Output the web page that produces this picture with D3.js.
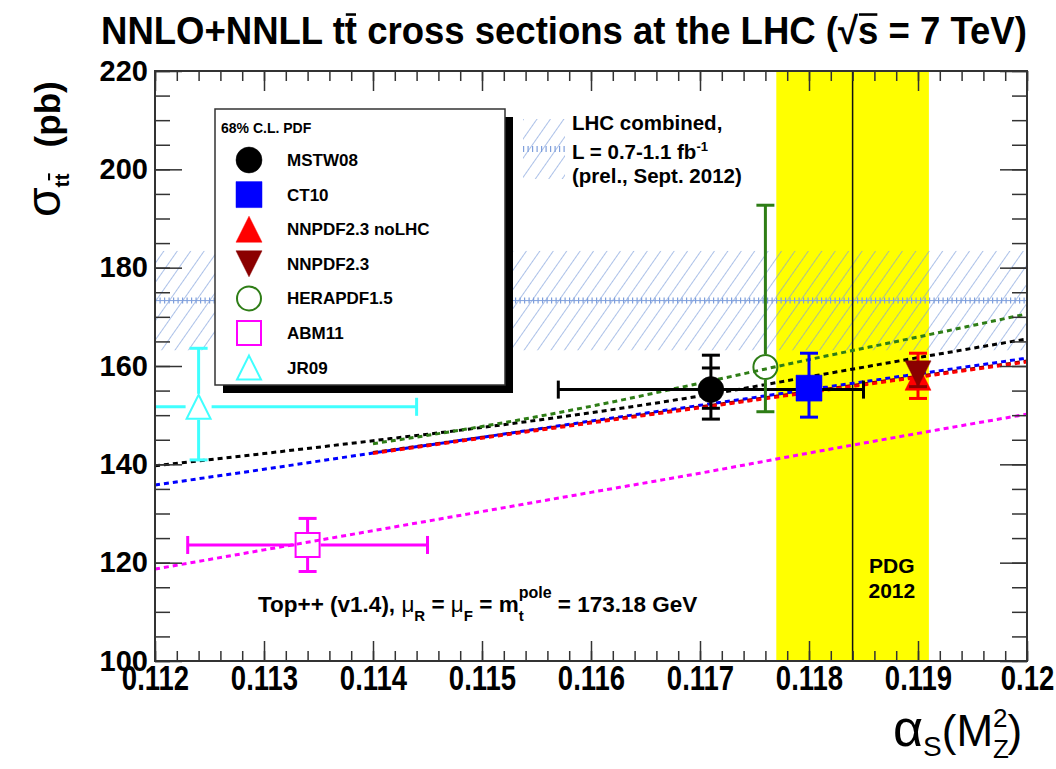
<!DOCTYPE html>
<html>
<head>
<meta charset="utf-8">
<script src="https://cdn.jsdelivr.net/npm/d3@7"></script>
<style>
    body { margin: 0; background: #fff; }
    text { font-family: "Liberation Sans", Arial, sans-serif; }
    .over { text-decoration: overline; }
</style>
</head>
<body>
<div id="chart"></div>
<script>
//Datos del gráfico
const alphaGrid = [0.112, 0.113, 0.114, 0.115, 0.116, 0.117, 0.118, 0.119, 0.120];
const curveMSTW08 = [139.7, 142.2, 144.8, 147.5, 150.5, 153.9, 157.8, 161.7, 165.5];
const curveCT10 = [135.8, 139.0, 142.3, 145.5, 148.8, 152.0, 155.2, 158.4, 161.6];
const curveNNPDFnoLHC = [null, null, 142.2, 145.3, 148.4, 151.5, 154.6, 157.7, 160.8];
const curveNNPDF = [null, null, 142.4, 145.5, 148.6, 151.7, 154.8, 157.9, 161.0];
const curveHERAPDF = [null, null, 144.2, 147.7, 151.8, 156.5, 161.3, 165.9, 170.6];
const curveABM11 = [118.7, 122.6, 126.5, 130.4, 134.3, 138.2, 142.3, 146.3, 150.2];

const pdfNames = ['MSTW08', 'CT10', 'NNPDF2.3 noLHC', 'NNPDF2.3', 'HERAPDF1.5', 'ABM11', 'JR09'];
const pdfColors = ['#000000', '#0000ff', '#ff0000', '#8b0000', '#2e7d16', '#ff00ff', '#40ffff'];
const pdfMarkers = ['circle', 'square', 'triUp', 'triDown', 'circleOpen', 'squareOpen', 'triUpOpen'];
const pointAlpha = [0.1171, 0.1180, 0.1190, 0.1190, 0.1176, 0.1134, 0.1124];
const pointSigma = [155.2, 155.5, 157.7, 158.4, 159.8, 123.6, 151.7];
const sigmaLow = [149.2, 149.6, 153.4, 155.8, 150.7, 118.2, 140.9];
const sigmaHigh = [162.2, 162.6, 162.6, 160.6, 192.7, 129.0, 163.6];
const sigmaInnerLow = [151.4, null, null, null, null, null, null];
const sigmaInnerHigh = [159.6, null, null, null, null, null, null];
const alphaLow = [0.1157, null, null, null, null, 0.1123, 0.1104];
const alphaHigh = [0.1185, null, null, null, null, 0.1145, 0.1144];

//Banda LHC combinado y PDG
const lhcSigma = 173.3, lhcLow = 163.2, lhcHigh = 183.4;
const pdgAlpha = 0.1184, pdgLow = 0.1177, pdgHigh = 0.1191;

//Ejes
const xMajor = [0.112, 0.113, 0.114, 0.115, 0.116, 0.117, 0.118, 0.119, 0.120];
const xTickLabels = ['0.112', '0.113', '0.114', '0.115', '0.116', '0.117', '0.118', '0.119', '0.12'];
const yMajor = [100, 120, 140, 160, 180, 200, 220];
const yTickLabels = ['100', '120', '140', '160', '180', '200', '220'];

const COLOR_FRAME = '#333333',
COLOR_HATCH = '#7f9fdc',
COLOR_PDG = '#ffff00';

let margin = {top: 71, right: 29, bottom: 108, left: 155},
    width = 1056 - margin.left - margin.right,
    height = 769 - margin.top - margin.bottom;

let root = d3.select('#chart')
    .append('svg')
        .attr('width', 1056)
        .attr('height', 769);

let defs = root.append('defs');
defs.append('clipPath').attr('id', 'plotClip')
    .append('rect').attr('width', width).attr('height', height);

let hatch = defs.append('pattern')
    .attr('id', 'hatch')
    .attr('patternUnits', 'userSpaceOnUse')
    .attr('width', 11).attr('height', 12)
    .attr('patternTransform', 'rotate(35)');
hatch.append('line')
    .attr('x1', 0).attr('y1', 0).attr('x2', 0).attr('y2', 12)
    .attr('stroke', COLOR_HATCH).attr('stroke-width', 1.3);

let svg = root.append('g')
    .attr('transform', 'translate(' + margin.left + ',' + margin.top + ')');

let x = d3.scaleLinear().domain([0.112, 0.120]).range([0, width]);
let y = d3.scaleLinear().domain([100, 220]).range([height, 0]);

let plot = svg.append('g').attr('clip-path', 'url(#plotClip)');

//Banda PDG
plot.append('rect')
    .attr('x', x(pdgLow)).attr('width', x(pdgHigh) - x(pdgLow))
    .attr('y', 0).attr('height', height)
    .attr('fill', COLOR_PDG);

//Banda LHC
plot.append('rect')
    .attr('x', 0).attr('width', width)
    .attr('y', y(lhcHigh)).attr('height', y(lhcLow) - y(lhcHigh))
    .attr('fill', 'url(#hatch)');
plot.append('line')
    .attr('x1', 0).attr('x2', width)
    .attr('y1', y(lhcSigma)).attr('y2', y(lhcSigma))
    .attr('stroke', COLOR_HATCH).attr('stroke-width', 1);
plot.append('line')
    .attr('x1', 0).attr('x2', width)
    .attr('y1', y(lhcSigma)).attr('y2', y(lhcSigma))
    .attr('stroke', COLOR_HATCH).attr('stroke-width', 6)
    .attr('stroke-dasharray', '1.2,3.3');

//Línea PDG
plot.append('line')
    .attr('x1', x(pdgAlpha)).attr('x2', x(pdgAlpha))
    .attr('y1', 0).attr('y2', height)
    .attr('stroke', '#111').attr('stroke-width', 1.5);

//Curvas teóricas
let curves = [
    {values: curveMSTW08, color: pdfColors[0]},
    {values: curveCT10, color: pdfColors[1]},
    {values: curveNNPDF, color: pdfColors[3]},
    {values: curveNNPDFnoLHC, color: pdfColors[2]},
    {values: curveHERAPDF, color: pdfColors[4]},
    {values: curveABM11, color: pdfColors[5]}
];
let line = d3.line()
    .defined(function(d) { return d[1] != null; })
    .x(function(d) { return x(d[0]); })
    .y(function(d) { return y(d[1]); })
    .curve(d3.curveMonotoneX);

plot.selectAll('.curve')
    .data(curves)
    .enter()
    .append('path')
    .attr('class', 'curve')
    .attr('fill', 'none')
    .attr('stroke', function(d) { return d.color; })
    .attr('stroke-width', 3)
    .attr('stroke-dasharray', '5,4')
    .attr('d', function(d) { return line(alphaGrid.map(function(a, i) { return [a, d.values[i]]; })); });

//Marcadores
const MK = 13;
function markerPath(type, s) {
    if (type.indexOf('circle') == 0) {
        let p = d3.path();
        p.moveTo(s, 0);
        p.arc(0, 0, s, 0, 2 * Math.PI);
        p.closePath();
        return p.toString();
    } else if (type.indexOf('square') == 0) {
        return 'M' + (-s) + ',' + (-s) + 'H' + s + 'V' + s + 'H' + (-s) + 'Z';
    } else if (type.indexOf('triUp') == 0) {
        return 'M0,' + (-s) + 'L' + s + ',' + s + 'L' + (-s) + ',' + s + 'Z';
    } else {
        return 'M0,' + s + 'L' + s + ',' + (-s) + 'L' + (-s) + ',' + (-s) + 'Z';
    }
}
function isOpen(type) { return type.indexOf('Open') > 0; }

function drawMarker(g, type, color, s) {
    g.append('path')
        .attr('d', markerPath(type, isOpen(type) ? s - 1 : s))
        .attr('fill', isOpen(type) ? 'none' : color)
        .attr('stroke', color)
        .attr('stroke-width', isOpen(type) ? 2 : 0.5);
}

let points = plot.append('g');
pdfNames.forEach(function(name, i) {
    let g = points.append('g');
    let cx = x(pointAlpha[i]), cy = y(pointSigma[i]);
    let color = pdfColors[i];
    let gap = isOpen(pdfMarkers[i]) ? MK : 0;
    let cap = 9;
    function seg(x1, y1, x2, y2) {
        g.append('line')
            .attr('x1', x1).attr('y1', y1).attr('x2', x2).attr('y2', y2)
            .attr('stroke', color).attr('stroke-width', 3);
    }
    //Barras verticales
    seg(cx, y(sigmaHigh[i]), cx, cy - gap);
    seg(cx, cy + gap, cx, y(sigmaLow[i]));
    seg(cx - cap, y(sigmaHigh[i]), cx + cap, y(sigmaHigh[i]));
    seg(cx - cap, y(sigmaLow[i]), cx + cap, y(sigmaLow[i]));
    if (sigmaInnerLow[i] != null) {
        seg(cx - cap, y(sigmaInnerHigh[i]), cx + cap, y(sigmaInnerHigh[i]));
        seg(cx - cap, y(sigmaInnerLow[i]), cx + cap, y(sigmaInnerLow[i]));
    }
    //Barras horizontales
    if (alphaLow[i] != null) {
        seg(x(alphaLow[i]), cy, cx - gap, cy);
        seg(cx + gap, cy, x(alphaHigh[i]), cy);
        seg(x(alphaLow[i]), cy - cap, x(alphaLow[i]), cy + cap);
        seg(x(alphaHigh[i]), cy - cap, x(alphaHigh[i]), cy + cap);
    }
    let m = g.append('g').attr('transform', 'translate(' + cx + ',' + cy + ')');
    drawMarker(m, pdfMarkers[i], color, MK);
});

//Ejes con marcas
function styleAxis(g) {
    g.select('.domain').remove();
    g.selectAll('.tick line').attr('stroke', COLOR_FRAME).attr('stroke-width', 1.5);
}
let xMinor = d3.range(0, 41).map(function(i) { return 0.112 + i * 0.0002; });
let yMinor = d3.range(0, 25).map(function(i) { return 100 + i * 5; });

svg.append('g').attr('transform', 'translate(0,' + height + ')')
    .call(d3.axisBottom(x).tickValues(xMinor).tickSize(-10).tickFormat(''))
    .call(styleAxis);
svg.append('g')
    .call(d3.axisTop(x).tickValues(xMinor).tickSize(-10).tickFormat(''))
    .call(styleAxis);
svg.append('g')
    .call(d3.axisTop(x).tickValues(xMajor).tickSize(-20).tickFormat(''))
    .call(styleAxis);
let xAxisG = svg.append('g').attr('transform', 'translate(0,' + height + ')')
    .call(d3.axisBottom(x).tickValues(xMajor).tickSize(-20).tickPadding(4)
        .tickFormat(function(d, i) { return xTickLabels[i]; }))
    .call(styleAxis);
//Etiquetas estrechas y altas, como en el original
xAxisG.selectAll('.tick text')
    .attr('fill', '#000')
    .attr('transform', 'scale(1,1.25)')
    .style('font-size', '27.5px')
    .style('font-weight', 'bold');

svg.append('g')
    .call(d3.axisLeft(y).tickValues(yMinor).tickSize(-15).tickFormat(''))
    .call(styleAxis);
svg.append('g').attr('transform', 'translate(' + width + ',0)')
    .call(d3.axisRight(y).tickValues(yMinor).tickSize(-15).tickFormat(''))
    .call(styleAxis);
svg.append('g').attr('transform', 'translate(' + width + ',0)')
    .call(d3.axisRight(y).tickValues(yMajor).tickSize(-27).tickFormat(''))
    .call(styleAxis);
let yAxisG = svg.append('g')
    .call(d3.axisLeft(y).tickValues(yMajor).tickSize(-27).tickPadding(7)
        .tickFormat(function(d, i) { return yTickLabels[i]; }))
    .call(styleAxis);
yAxisG.selectAll('.tick text')
    .attr('fill', '#000')
    .style('font-size', '29px')
    .style('font-weight', 'bold');

//Marco
svg.append('rect')
    .attr('width', width).attr('height', height)
    .attr('fill', 'none')
    .attr('stroke', COLOR_FRAME).attr('stroke-width', 2);

//Leyenda
let legend = svg.append('g').attr('transform', 'translate(60,38)');
legend.append('rect')
    .attr('x', 8).attr('y', 8).attr('width', 290).attr('height', 276)
    .attr('fill', '#000');
legend.append('rect')
    .attr('width', 290).attr('height', 276)
    .attr('fill', '#fff').attr('stroke', COLOR_FRAME).attr('stroke-width', 1.5);
legend.append('text')
    .attr('x', 6).attr('y', 24)
    .style('font-size', '14px').style('font-weight', 'bold')
    .text('68% C.L. PDF');
pdfNames.forEach(function(name, i) {
    let ly = 51 + i * 34.6;
    let m = legend.append('g').attr('transform', 'translate(34,' + ly + ')');
    drawMarker(m, pdfMarkers[i], pdfColors[i], MK);
    legend.append('text')
        .attr('x', 72).attr('y', ly + 6)
        .style('font-size', '17px').style('font-weight', 'bold')
        .text(name);
});

//Leyenda LHC combinado
let lhcLeg = svg.append('g').attr('transform', 'translate(368,48)');
lhcLeg.append('rect')
    .attr('width', 42).attr('height', 60)
    .attr('fill', 'url(#hatch)');
lhcLeg.append('line')
    .attr('x1', 0).attr('x2', 42).attr('y1', 30).attr('y2', 30)
    .attr('stroke', COLOR_HATCH).attr('stroke-width', 6)
    .attr('stroke-dasharray', '1.2,3.3');
let lhcText = lhcLeg.append('text')
    .style('font-size', '20.5px').style('font-weight', 'bold');
lhcText.append('tspan').attr('x', 49).attr('y', 11).text('LHC combined,');
lhcText.append('tspan').attr('x', 49).attr('y', 40).text('L = 0.7-1.1 fb');
lhcText.append('tspan').attr('dy', -8).style('font-size', '13px').text('-1');
lhcText.append('tspan').attr('x', 49).attr('y', 64).text('(prel., Sept. 2012)');

//Texto PDG
let pdgText = svg.append('text')
    .attr('text-anchor', 'middle')
    .style('font-size', '21px').style('font-weight', 'bold');
pdgText.append('tspan').attr('x', x(0.11876)).attr('y', 502).text('PDG');
pdgText.append('tspan').attr('x', x(0.11876)).attr('y', 527).text('2012');

//Texto Top++
let topText = svg.append('text')
    .attr('x', 103).attr('y', 541)
    .style('font-size', '22.5px').style('font-weight', 'bold');
topText.append('tspan').text('Top++ (v1.4), ');
topText.append('tspan').style('font-weight', 'normal').text('μ');
topText.append('tspan').attr('dy', 9).style('font-size', '15px').text('R');
topText.append('tspan').attr('dy', -9).text(' = ');
topText.append('tspan').style('font-weight', 'normal').text('μ');
topText.append('tspan').attr('dy', 9).style('font-size', '15px').text('F');
topText.append('tspan').attr('dy', -9).text(' = m');
topText.append('tspan').attr('dy', 9).style('font-size', '15px').text('t');
topText.append('tspan').attr('dx', -5).attr('dy', -23).style('font-size', '16px').text('pole');
topText.append('tspan').attr('dy', 14).text(' = 173.18 GeV');

//Título: se ajusta el tamaño para que ocupe 926 px y se estira en vertical
let titleStr = 'NNLO+NNLL tt cross sections at the LHC (\u221As = 7 TeV)';
let titleG = root.append('g');
let title = titleG.append('text')
    .attr('x', 0).attr('y', 0)
    .style('font-size', '38px').style('font-weight', 'bold')
    .text(titleStr);
let titleFs = 38 * 926 / title.node().getComputedTextLength();
title.style('font-size', titleFs + 'px');
titleG.attr('transform', 'translate(101,44) scale(1,' + (38 / titleFs) + ')');
[11, titleStr.indexOf('\u221A') + 1].forEach(function(ci) {
    let ext = title.node().getExtentOfChar(ci);
    titleG.append('line')
        .attr('x1', ext.x + 1).attr('x2', ext.x + ext.width - 1)
        .attr('y1', ext.y + 5).attr('y2', ext.y + 5)
        .attr('stroke', '#000').attr('stroke-width', 2.5);
});

//Título eje Y
let yTitle = root.append('text')
    .attr('transform', 'translate(60,217) rotate(-90)')
    .style('font-weight', 'bold');
yTitle.append('tspan').style('font-size', '48px').style('font-weight', 'normal').text('σ');
yTitle.append('tspan').attr('dy', 9).style('font-size', '21px').text('t');
yTitle.append('tspan').attr('class', 'over').style('font-size', '21px').text('t');
yTitle.append('tspan').attr('dx', 26).attr('dy', -9).style('font-size', '35px').text('(pb)');

//Título eje X
let xTitle = root.append('text')
    .attr('x', 893).attr('y', 746)
    .style('font-size', '44px');
xTitle.append('tspan').style('font-size', '52px').text('α');
xTitle.append('tspan').attr('dy', 10).style('font-size', '28px').text('S');
xTitle.append('tspan').attr('dy', -10).text('(M');
xTitle.append('tspan').attr('dy', 12).style('font-size', '26px').text('Z');
xTitle.append('tspan').attr('dx', -16).attr('dy', -31).style('font-size', '26px').text('2');
xTitle.append('tspan').attr('dy', 19).text(')');
</script>
</body>
</html>
